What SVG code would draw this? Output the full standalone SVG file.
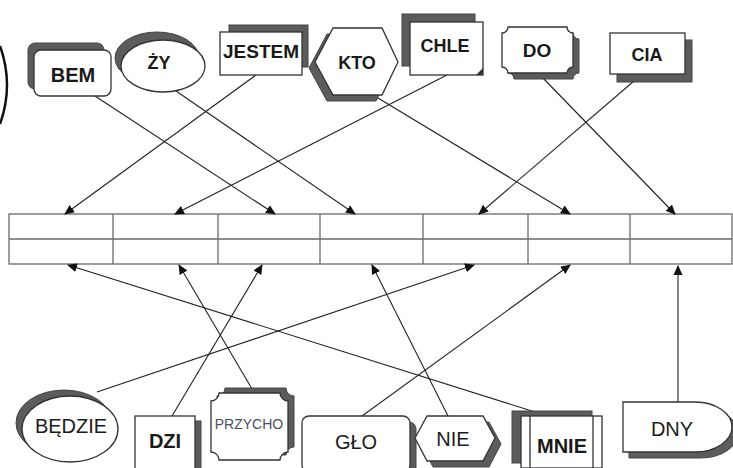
<svg xmlns="http://www.w3.org/2000/svg" width="733" height="468" viewBox="0 0 733 468">
<defs>
<marker id="ah" viewBox="0 0 10 10" refX="9" refY="5" markerWidth="10" markerHeight="10" markerUnits="userSpaceOnUse" orient="auto">
<path d="M0,0.5 L10,5 L0,9.5 Z" fill="#111"/>
</marker>
</defs>
<style>
.sh{fill:#5c5c5c;stroke:#444;stroke-width:1}
.bx{fill:#fff;stroke:#333;stroke-width:1.3}
.t{font-family:"Liberation Sans",Arial,sans-serif;font-size:20px;fill:#1a1a1a;text-anchor:middle;dominant-baseline:central}
.b{font-weight:bold;font-size:18px}
.cn{stroke:#222;stroke-width:1.1;fill:none;marker-end:url(#ah)}
.gr{stroke:#6a6a6a;stroke-width:1.3;fill:none}
</style>
<rect width="733" height="468" fill="#fff"/>

<path d="M0,46 Q14,85 0,124" fill="none" stroke="#111" stroke-width="2.5"/>

<g id="grid">
<rect class="gr" x="9" y="214" width="723" height="50"/>
<line class="gr" x1="9" y1="239" x2="732" y2="239"/>
<line class="gr" x1="113" y1="214" x2="113" y2="264"/>
<line class="gr" x1="218" y1="214" x2="218" y2="264"/>
<line class="gr" x1="320" y1="214" x2="320" y2="264"/>
<line class="gr" x1="423" y1="214" x2="423" y2="264"/>
<line class="gr" x1="528" y1="214" x2="528" y2="264"/>
<line class="gr" x1="630" y1="214" x2="630" y2="264"/>
</g>

<g id="connectors">
<line class="cn" x1="95" y1="96" x2="275" y2="214"/>
<line class="cn" x1="176" y1="91" x2="355" y2="214"/>
<line class="cn" x1="256" y1="75" x2="65" y2="214"/>
<line class="cn" x1="373" y1="95" x2="570" y2="214"/>
<line class="cn" x1="447" y1="75" x2="175" y2="214"/>
<line class="cn" x1="541" y1="76" x2="675" y2="214"/>
<line class="cn" x1="641" y1="75" x2="479" y2="214"/>
<line class="cn" x1="97" y1="392" x2="474" y2="265"/>
<line class="cn" x1="172" y1="416" x2="262" y2="265"/>
<line class="cn" x1="255" y1="394" x2="179" y2="265"/>
<line class="cn" x1="362" y1="416" x2="570" y2="265"/>
<line class="cn" x1="448" y1="416" x2="372" y2="265"/>
<line class="cn" x1="535" y1="412" x2="68" y2="265"/>
<line class="cn" x1="678" y1="402" x2="678" y2="266"/>
</g>

<g id="n-bem">
<rect class="sh" x="28" y="43" width="76" height="46" rx="7"/>
<rect class="bx" x="34" y="50" width="77" height="46" rx="7"/>
<text class="t b" x="73" y="75" style="font-size:20px">BEM</text>
</g>
<g id="n-zy">
<ellipse class="sh" cx="157" cy="58" rx="42" ry="26"/>
<ellipse class="bx" cx="163" cy="66" rx="42" ry="26"/>
<text class="t b" x="159" y="63">ŻY</text>
</g>
<g id="n-jestem">
<rect class="sh" x="229" y="25" width="79" height="42"/>
<rect class="bx" x="220" y="32" width="82" height="43"/>
<text class="t b" x="261" y="51" style="font-size:19px">JESTEM</text>
</g>
<g id="n-kto">
<polygon class="sh" points="309,68 327,34 376,34 392,68 376,101 327,101"/>
<polygon class="bx" points="315,62 333,28 382,28 398,62 382,95 333,95"/>
<text class="t b" x="357" y="63">KTO</text>
</g>
<g id="n-chle">
<rect class="sh" x="402" y="14" width="73" height="52"/>
<rect class="bx" x="410" y="22" width="73" height="53"/>
<polygon points="476,75 483,68 483,75" fill="#333"/>
<text class="t b" x="445" y="46">CHLE</text>
</g>
<g id="n-do">
<path class="sh" d="M514,33 H573 A6,6 0 0 0 579,39 V73 A6,6 0 0 0 573,79 H514 A6,6 0 0 0 508,73 V39 A6,6 0 0 0 514,33 Z"/>
<path class="bx" d="M508,27 H567 A6,6 0 0 0 573,33 V67 A6,6 0 0 0 567,73 H508 A6,6 0 0 0 502,67 V33 A6,6 0 0 0 508,27 Z"/>
<text class="t b" x="537" y="50" style="font-size:19px">DO</text>
</g>
<g id="n-cia">
<rect class="sh" x="617" y="40" width="75" height="42"/>
<rect class="bx" x="610" y="33" width="75" height="41"/>
<text class="t b" x="647" y="55">CIA</text>
</g>

<g id="n-bedzie">
<ellipse class="sh" cx="64" cy="423" rx="48" ry="33"/>
<ellipse class="bx" cx="70" cy="429" rx="48" ry="33"/>
<text class="t" x="71" y="426">BĘDZIE</text>
</g>
<g id="n-dzi">
<rect class="sh" x="141" y="421" width="60" height="52"/>
<rect class="bx" x="135" y="416" width="60" height="55"/>
<text class="t b" x="165" y="441" style="font-size:20px">DZI</text>
</g>
<g id="n-przycho">
<path class="sh" d="M225,388 H286 A8,8 0 0 0 294,396 V447 A8,8 0 0 0 286,455 H225 A8,8 0 0 0 217,447 V396 A8,8 0 0 0 225,388 Z"/>
<path class="bx" d="M219,393 H280 A8,8 0 0 0 288,401 V452 A8,8 0 0 0 280,460 H219 A8,8 0 0 0 211,452 V401 A8,8 0 0 0 219,393 Z"/>
<text class="t" x="249" y="424" style="font-size:14px;fill:#4a5060">PRZYCHO</text>
</g>
<g id="n-glo">
<rect class="sh" x="309" y="422" width="107" height="52" rx="7"/>
<rect class="bx" x="302" y="416" width="108" height="56" rx="7"/>
<text class="t" x="356" y="442">GŁO</text>
</g>
<g id="n-nie">
<polygon class="sh" points="421,444 433,422 489,422 501,444 489,467 433,467"/>
<polygon class="bx" points="415,438 427,416 483,416 495,438 483,461 427,461"/>
<text class="t" x="453" y="439">NIE</text>
</g>
<g id="n-mnie">
<rect class="sh" x="512" y="411" width="80" height="52"/>
<rect class="bx" x="521" y="416" width="81" height="52"/>
<line x1="530" y1="416" x2="530" y2="468" stroke="#333" stroke-width="1.3"/>
<line x1="593" y1="416" x2="593" y2="468" stroke="#333" stroke-width="1.3"/>
<text class="t b" x="562" y="446" style="font-size:20px">MNIE</text>
</g>
<g id="n-dny">
<path class="sh" d="M629,408 H701 A37,25 0 0 1 701,458 H629 Z"/>
<path class="bx" d="M623,402 H695 A37,25 0 0 1 695,452 H623 Z"/>
<text class="t" x="672" y="429">DNY</text>
</g>
</svg>
